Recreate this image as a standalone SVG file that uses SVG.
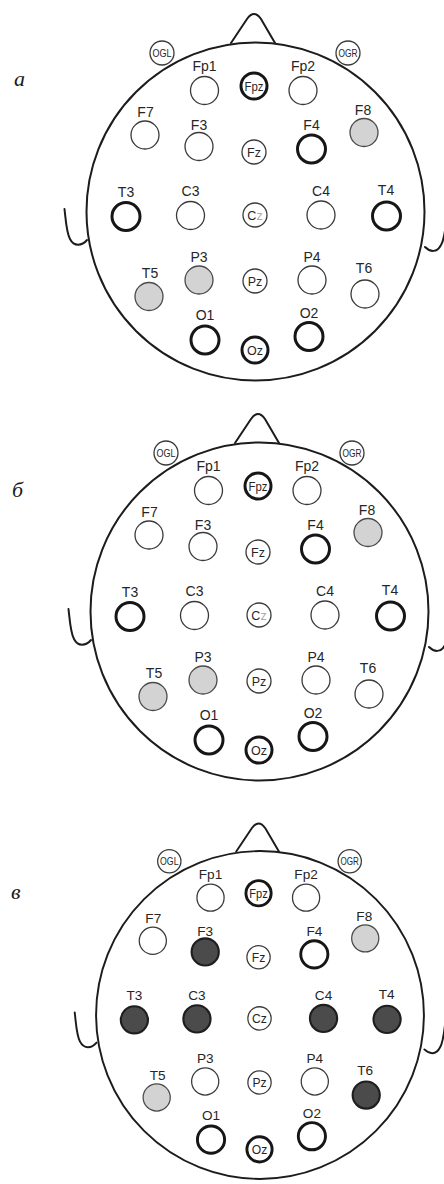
<svg xmlns="http://www.w3.org/2000/svg" width="444" height="1184" viewBox="0 0 444 1184">
  <style>
    .outline { fill: none; stroke: #1c1c1c; stroke-width: 2; stroke-linecap: round; stroke-linejoin: round; }
    .e { fill: #fff; stroke: #3a3a3a; stroke-width: 1.3; }
    .e.thick { stroke: #161616; stroke-width: 3; }
    .e.gray { fill: #d3d3d3; stroke: #4a4a4a; }
    .e.dark { fill: #4b4b4b; stroke: #1e1e1e; stroke-width: 2.2; }
    .lbl { font-family: "Liberation Sans", Arial, sans-serif; font-size: 14px; fill: #262626; text-anchor: middle; }
    .in { font-family: "Liberation Sans", Arial, sans-serif; font-size: 12.5px; fill: #262626; text-anchor: middle; }
    .og { font-family: "Liberation Sans", Arial, sans-serif; font-size: 10.5px; fill: #262626; text-anchor: middle; }
    .faint { fill: #a8a8a8; }
    .panel { font-family: "Liberation Serif", "Times New Roman", serif; font-style: italic; font-size: 22px; fill: #1a1a1a; }
  </style>

  <!-- panel letters -->
  <text class="panel" x="14" y="86">а</text>
  <text class="panel" x="12" y="497">б</text>
  <text class="panel" x="11" y="899">в</text>

  <!-- ===== head а ===== -->
  <g id="head-a">
    <g id="a-outline">
      <circle class="outline" cx="255.5" cy="211.5" r="169"/>
      <path class="outline" d="M231 43 L247 19 Q254 9 261 19 L275 43"/>
      <path class="outline" d="M64.5 209 C66 222 66.5 233 70 239 C74 247 82 246 87 240"/>
      <path class="outline" d="M447 215 C445.5 228 444.5 240 441 245 C437 253 430 252 425 247"/>
    </g>
    <g id="a-OGL"><circle class="e" cx="162" cy="53" r="12"/><text class="og" x="162" y="57" textLength="19" lengthAdjust="spacingAndGlyphs">OGL</text></g>
    <g id="a-OGR"><circle class="e" cx="348" cy="53" r="12"/><text class="og" x="348" y="57" textLength="19" lengthAdjust="spacingAndGlyphs">OGR</text></g>
    <g id="a-Fp1"><circle class="e" cx="204.5" cy="90.5" r="14"/><text class="lbl" x="204.5" y="71">Fp1</text></g>
    <g id="a-Fpz"><circle class="e thick" cx="254" cy="86" r="13"/><text class="in" x="254" y="90.5" textLength="19" lengthAdjust="spacingAndGlyphs">Fpz</text></g>
    <g id="a-Fp2"><circle class="e" cx="303" cy="90.5" r="14"/><text class="lbl" x="303" y="71">Fp2</text></g>
    <g id="a-F7"><circle class="e" cx="145" cy="135" r="14"/><text class="lbl" x="145.5" y="116.5">F7</text></g>
    <g id="a-F3"><circle class="e" cx="199" cy="146.5" r="14"/><text class="lbl" x="199" y="130">F3</text></g>
    <g id="a-Fz"><circle class="e" cx="254" cy="152" r="12"/><text class="in" x="254" y="156.5">Fz</text></g>
    <g id="a-F4"><circle class="e thick" cx="311.5" cy="149" r="14"/><text class="lbl" x="311.5" y="130">F4</text></g>
    <g id="a-F8"><circle class="e gray" cx="364" cy="132.5" r="14"/><text class="lbl" x="363" y="115">F8</text></g>
    <g id="a-T3"><circle class="e thick" cx="126" cy="216.5" r="14"/><text class="lbl" x="126" y="196.5">T3</text></g>
    <g id="a-C3"><circle class="e" cx="190.5" cy="215.5" r="14"/><text class="lbl" x="190.5" y="196">C3</text></g>
    <g id="a-Cz"><circle class="e" cx="255" cy="215" r="12"/><text class="in" x="255" y="219.5">C<tspan class="faint">z</tspan></text></g>
    <g id="a-C4"><circle class="e" cx="321" cy="215" r="14"/><text class="lbl" x="321" y="196">C4</text></g>
    <g id="a-T4"><circle class="e thick" cx="386.5" cy="216" r="14"/><text class="lbl" x="386" y="195">T4</text></g>
    <g id="a-T5"><circle class="e gray" cx="149" cy="296.5" r="14"/><text class="lbl" x="150" y="278">T5</text></g>
    <g id="a-P3"><circle class="e gray" cx="199" cy="280" r="14"/><text class="lbl" x="199" y="261.5">P3</text></g>
    <g id="a-Pz"><circle class="e" cx="255" cy="281" r="12"/><text class="in" x="255" y="285.5">Pz</text></g>
    <g id="a-P4"><circle class="e" cx="312" cy="280" r="14"/><text class="lbl" x="312" y="261.5">P4</text></g>
    <g id="a-T6"><circle class="e" cx="365" cy="294" r="14"/><text class="lbl" x="364" y="273">T6</text></g>
    <g id="a-O1"><circle class="e thick" cx="205" cy="340" r="14"/><text class="lbl" x="205" y="320">O1</text></g>
    <g id="a-Oz"><circle class="e thick" cx="255" cy="350" r="13"/><text class="in" x="255" y="354.5">Oz</text></g>
    <g id="a-O2"><circle class="e thick" cx="309" cy="336.5" r="14"/><text class="lbl" x="309" y="318">O2</text></g>
  </g>

  <!-- ===== head б ===== -->
  <g id="head-b" transform="translate(4 400)">
    <g id="b-outline">
      <circle class="outline" cx="255.5" cy="211.5" r="169"/>
      <path class="outline" d="M231 43 L247 19 Q254 9 261 19 L275 43"/>
      <path class="outline" d="M64.5 209 C66 222 66.5 233 70 239 C74 247 82 246 87 240"/>
      <path class="outline" d="M447 215 C445.5 228 444.5 240 441 245 C437 253 430 252 425 247"/>
    </g>
    <g id="b-OGL"><circle class="e" cx="162" cy="53" r="12"/><text class="og" x="162" y="57" textLength="19" lengthAdjust="spacingAndGlyphs">OGL</text></g>
    <g id="b-OGR"><circle class="e" cx="348" cy="53" r="12"/><text class="og" x="348" y="57" textLength="19" lengthAdjust="spacingAndGlyphs">OGR</text></g>
    <g id="b-Fp1"><circle class="e" cx="204.5" cy="90.5" r="14"/><text class="lbl" x="204.5" y="71">Fp1</text></g>
    <g id="b-Fpz"><circle class="e thick" cx="254" cy="86" r="13"/><text class="in" x="254" y="90.5" textLength="19" lengthAdjust="spacingAndGlyphs">Fpz</text></g>
    <g id="b-Fp2"><circle class="e" cx="303" cy="90.5" r="14"/><text class="lbl" x="303" y="71">Fp2</text></g>
    <g id="b-F7"><circle class="e" cx="145" cy="135" r="14"/><text class="lbl" x="145.5" y="116.5">F7</text></g>
    <g id="b-F3"><circle class="e" cx="199" cy="146.5" r="14"/><text class="lbl" x="199" y="130">F3</text></g>
    <g id="b-Fz"><circle class="e" cx="254" cy="152" r="12"/><text class="in" x="254" y="156.5">Fz</text></g>
    <g id="b-F4"><circle class="e thick" cx="311.5" cy="149" r="14"/><text class="lbl" x="311.5" y="130">F4</text></g>
    <g id="b-F8"><circle class="e gray" cx="364" cy="132.5" r="14"/><text class="lbl" x="363" y="115">F8</text></g>
    <g id="b-T3"><circle class="e thick" cx="126" cy="216.5" r="14"/><text class="lbl" x="126" y="196.5">T3</text></g>
    <g id="b-C3"><circle class="e" cx="190.5" cy="215.5" r="14"/><text class="lbl" x="190.5" y="196">C3</text></g>
    <g id="b-Cz"><circle class="e" cx="255" cy="215" r="12"/><text class="in" x="255" y="219.5">C<tspan class="faint">z</tspan></text></g>
    <g id="b-C4"><circle class="e" cx="321" cy="215" r="14"/><text class="lbl" x="321" y="196">C4</text></g>
    <g id="b-T4"><circle class="e thick" cx="386.5" cy="216" r="14"/><text class="lbl" x="386" y="195">T4</text></g>
    <g id="b-T5"><circle class="e gray" cx="149" cy="296.5" r="14"/><text class="lbl" x="150" y="278">T5</text></g>
    <g id="b-P3"><circle class="e gray" cx="199" cy="280" r="14"/><text class="lbl" x="199" y="261.5">P3</text></g>
    <g id="b-Pz"><circle class="e" cx="255" cy="281" r="12"/><text class="in" x="255" y="285.5">Pz</text></g>
    <g id="b-P4"><circle class="e" cx="312" cy="280" r="14"/><text class="lbl" x="312" y="261.5">P4</text></g>
    <g id="b-T6"><circle class="e" cx="365" cy="294" r="14"/><text class="lbl" x="364" y="273">T6</text></g>
    <g id="b-O1"><circle class="e thick" cx="205" cy="340" r="14"/><text class="lbl" x="205" y="320">O1</text></g>
    <g id="b-Oz"><circle class="e thick" cx="255" cy="350" r="13"/><text class="in" x="255" y="354.5">Oz</text></g>
    <g id="b-O2"><circle class="e thick" cx="309" cy="336.5" r="14"/><text class="lbl" x="309" y="318">O2</text></g>
  </g>

  <!-- ===== head в (drawn slightly smaller) ===== -->
  <g id="head-c" transform="translate(260 1015) scale(0.97) translate(-255.5 -211.5)">
    <g id="c-outline">
      <circle class="outline" cx="255.5" cy="211.5" r="169"/>
      <path class="outline" d="M231 43 L247 19 Q254 9 261 19 L275 43"/>
      <path class="outline" d="M64.5 209 C66 222 66.5 233 70 239 C74 247 82 246 87 240"/>
      <path class="outline" d="M447 215 C445.5 228 444.5 240 441 245 C437 253 430 252 425 247"/>
    </g>
    <g id="c-OGL"><circle class="e" cx="162" cy="53" r="12"/><text class="og" x="162" y="57" textLength="19" lengthAdjust="spacingAndGlyphs">OGL</text></g>
    <g id="c-OGR"><circle class="e" cx="348" cy="53" r="12"/><text class="og" x="348" y="57" textLength="19" lengthAdjust="spacingAndGlyphs">OGR</text></g>
    <g id="c-Fp1"><circle class="e" cx="204.5" cy="90.5" r="14"/><text class="lbl" x="204.5" y="71">Fp1</text></g>
    <g id="c-Fpz"><circle class="e thick" cx="254" cy="86" r="13"/><text class="in" x="254" y="90.5" textLength="19" lengthAdjust="spacingAndGlyphs">Fpz</text></g>
    <g id="c-Fp2"><circle class="e" cx="303" cy="90.5" r="14"/><text class="lbl" x="303" y="71">Fp2</text></g>
    <g id="c-F7"><circle class="e" cx="145" cy="135" r="14"/><text class="lbl" x="145.5" y="116.5">F7</text></g>
    <g id="c-F3"><circle class="e dark" cx="199" cy="146.5" r="14"/><text class="lbl" x="199" y="130">F3</text></g>
    <g id="c-Fz"><circle class="e" cx="254" cy="152" r="12"/><text class="in" x="254" y="156.5">Fz</text></g>
    <g id="c-F4"><circle class="e thick" cx="311.5" cy="149" r="14"/><text class="lbl" x="311.5" y="130">F4</text></g>
    <g id="c-F8"><circle class="e gray" cx="364" cy="132.5" r="14"/><text class="lbl" x="363" y="115">F8</text></g>
    <g id="c-T3"><circle class="e dark" cx="126" cy="216.5" r="14"/><text class="lbl" x="126" y="196.5">T3</text></g>
    <g id="c-C3"><circle class="e dark" cx="190.5" cy="215.5" r="14"/><text class="lbl" x="190.5" y="196">C3</text></g>
    <g id="c-Cz"><circle class="e" cx="255" cy="215" r="12"/><text class="in" x="255" y="219.5">Cz</text></g>
    <g id="c-C4"><circle class="e dark" cx="321" cy="215" r="14"/><text class="lbl" x="321" y="196">C4</text></g>
    <g id="c-T4"><circle class="e dark" cx="386.5" cy="216" r="14"/><text class="lbl" x="386" y="195">T4</text></g>
    <g id="c-T5"><circle class="e gray" cx="149" cy="296.5" r="14"/><text class="lbl" x="150" y="278">T5</text></g>
    <g id="c-P3"><circle class="e" cx="199" cy="280" r="14"/><text class="lbl" x="199" y="261.5">P3</text></g>
    <g id="c-Pz"><circle class="e" cx="255" cy="281" r="12"/><text class="in" x="255" y="285.5">Pz</text></g>
    <g id="c-P4"><circle class="e" cx="312" cy="280" r="14"/><text class="lbl" x="312" y="261.5">P4</text></g>
    <g id="c-T6"><circle class="e dark" cx="365" cy="294" r="14"/><text class="lbl" x="364" y="273">T6</text></g>
    <g id="c-O1"><circle class="e thick" cx="205" cy="340" r="14"/><text class="lbl" x="205" y="320">O1</text></g>
    <g id="c-Oz"><circle class="e thick" cx="255" cy="350" r="13"/><text class="in" x="255" y="354.5">Oz</text></g>
    <g id="c-O2"><circle class="e thick" cx="309" cy="336.5" r="14"/><text class="lbl" x="309" y="318">O2</text></g>
  </g>
</svg>
